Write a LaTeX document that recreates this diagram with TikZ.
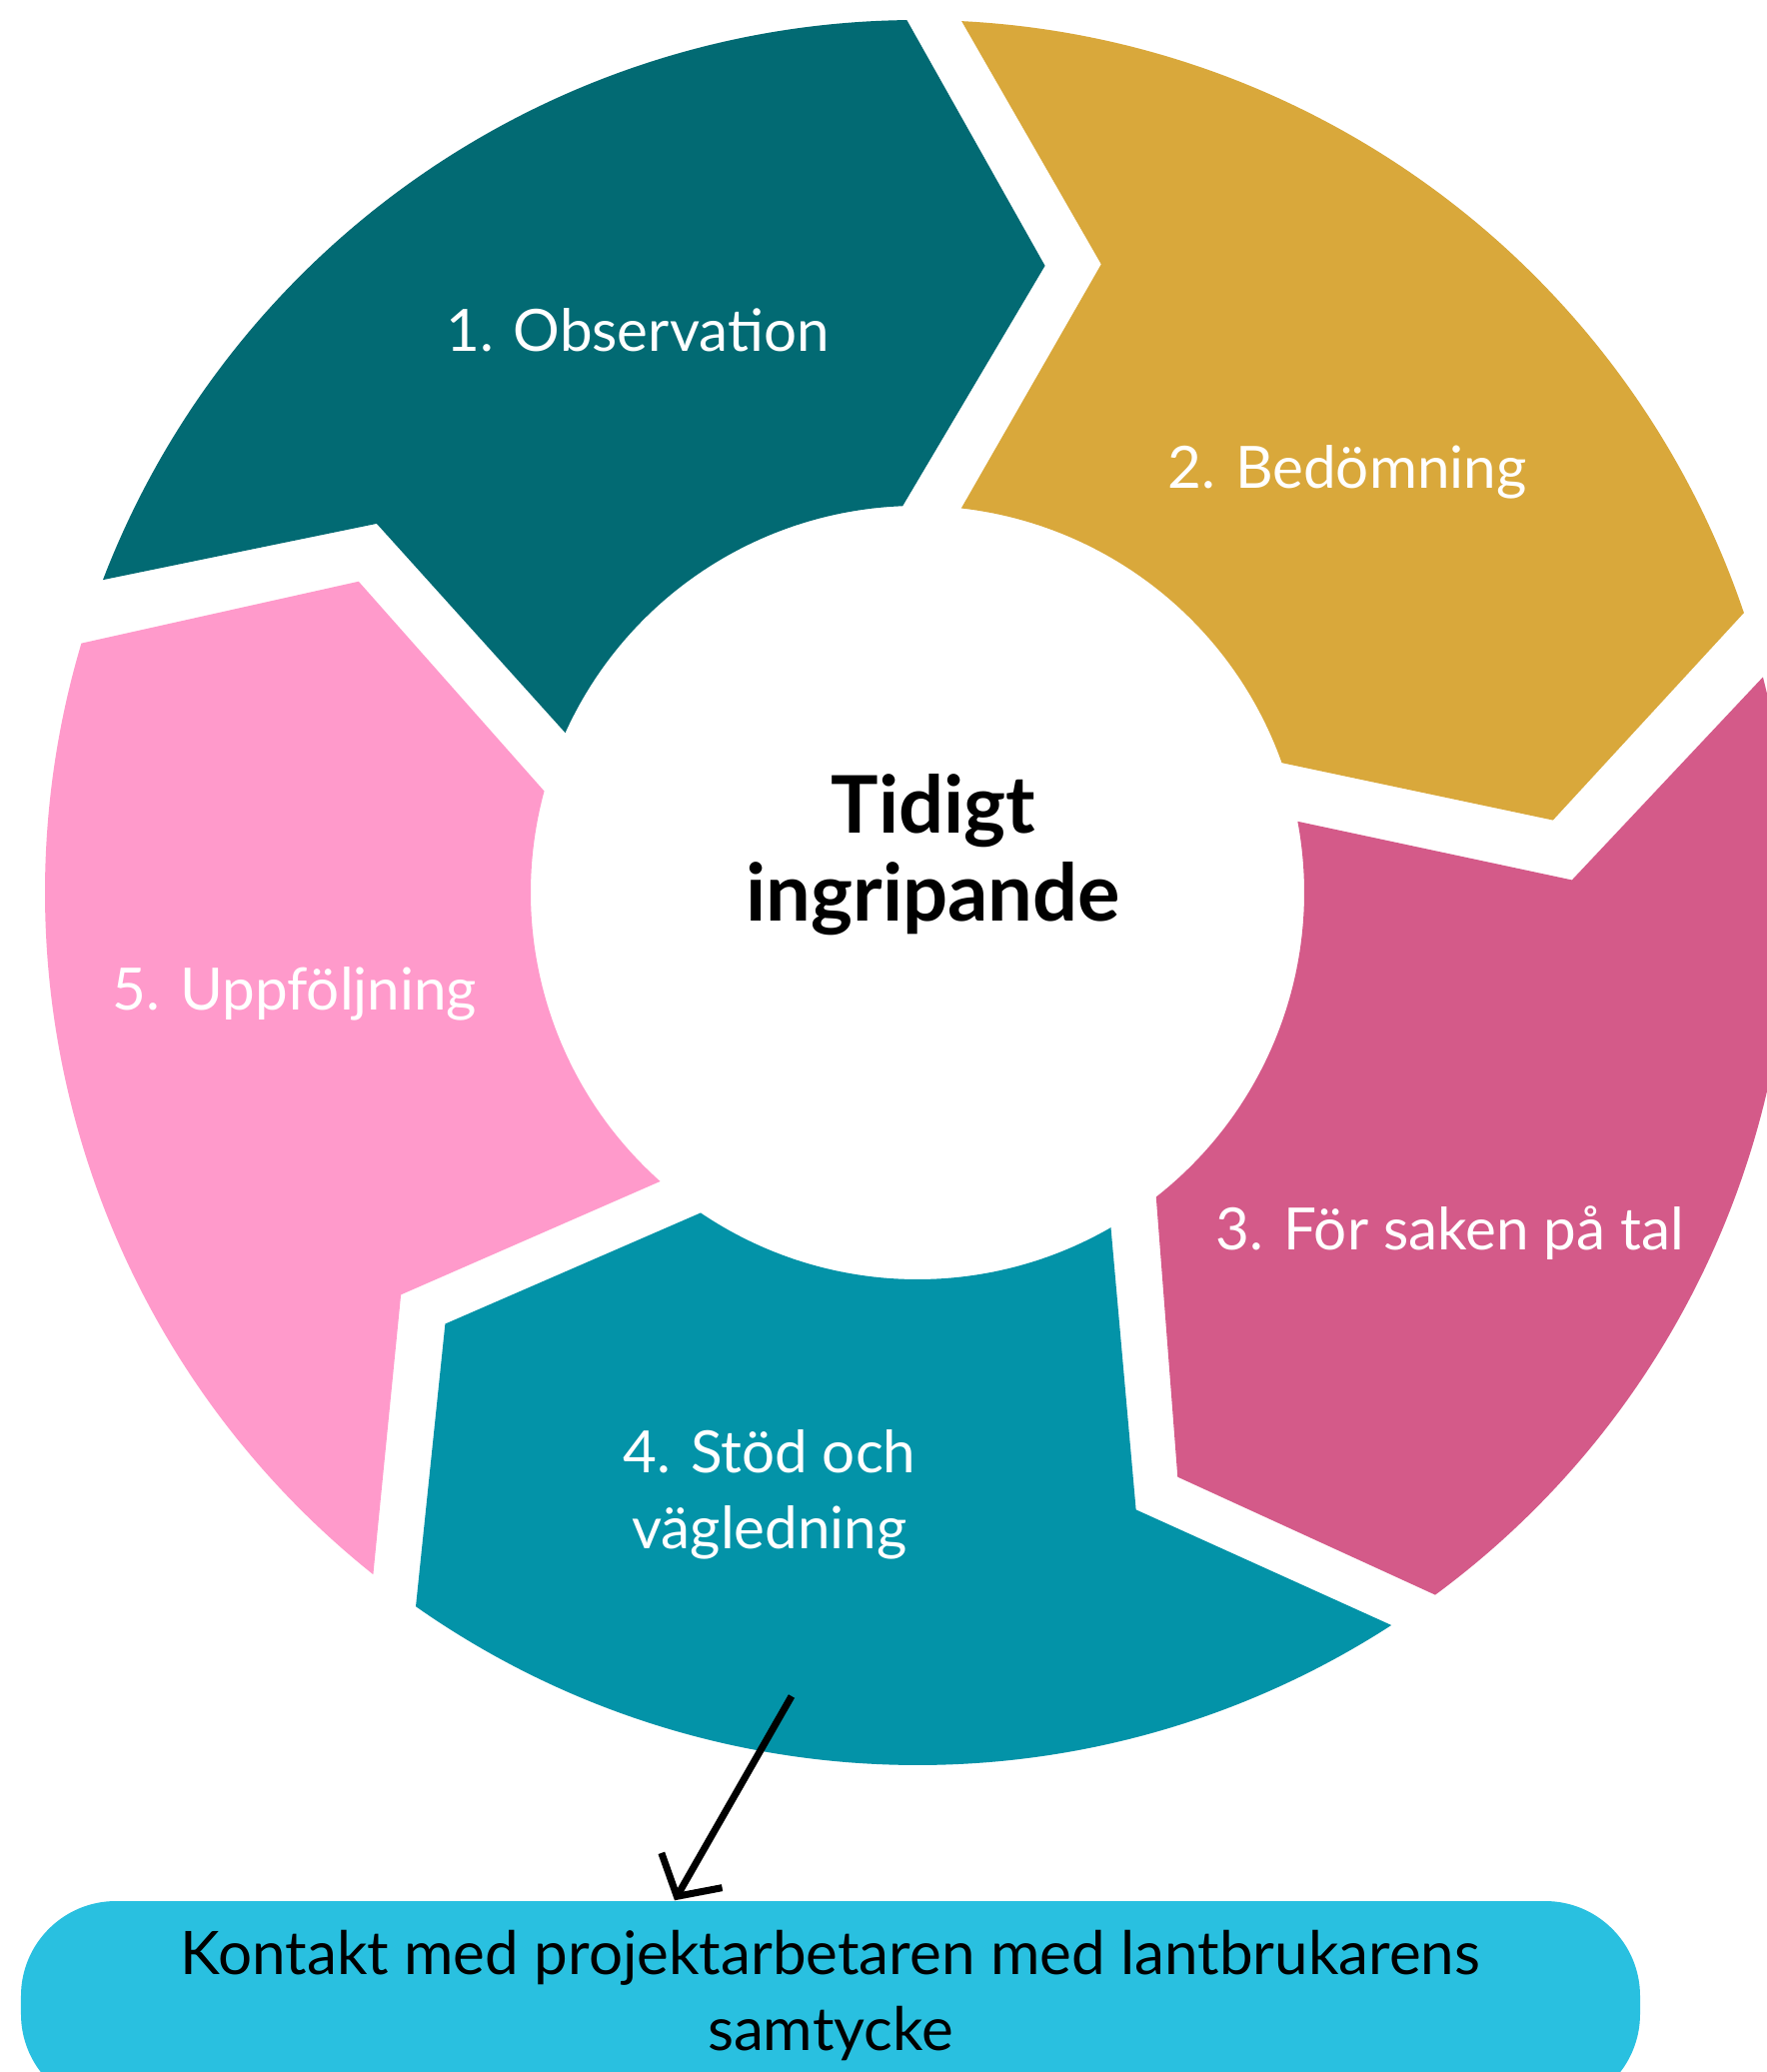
\documentclass[tikz,border=0pt]{standalone}
\usepackage{fontspec}
\setmainfont{Lato}
\usetikzlibrary{arrows.meta}

\definecolor{obsteal}{HTML}{026A73}
\definecolor{bedgold}{HTML}{D9A83B}
\definecolor{talpink}{HTML}{D45A89}
\definecolor{stodblue}{HTML}{0393A8}
\definecolor{uppink}{HTML}{FF9ACB}
\definecolor{boxcyan}{HTML}{29C0E0}

\begin{document}
\begin{tikzpicture}[
    segtext/.style={text=white, font=\fontsize{16.6}{21.6}\selectfont, align=center},
    hubtext/.style={font=\fontsize{22.6}{25.2}\selectfont\bfseries, align=center},
    contactbox/.style={fill=boxcyan, rounded corners=0.95cm, minimum width=16.2cm,
        minimum height=2.08cm, align=center, text depth=0.3cm,
        font=\fontsize{17.1}{21.6}\selectfont},
    link/.style={line width=2pt, -{Straight Barb[length=3mm,width=7mm]}}
]

\def\outR{8.73}
\def\inR{3.87}
\def\tipR{6.40}
\def\notchR{6.55}

\useasboundingbox (-9.18,-11.80) rectangle (8.50,8.93);
\clip (-9.18,-11.80) rectangle (8.50,8.93);
\fill[white] (-9.18,-11.80) rectangle (8.50,8.93);

\begin{scope}
    \fill[obsteal] (159:\outR) arc[start angle=159, end angle=90.7, radius=\outR]
        -- (78.5:\tipR) -- (92.2:\inR) arc[start angle=92.2, end angle=155.6, radius=\inR]
        -- (145.7:\notchR) -- cycle; % 1
    \fill[bedgold] (87.1:\outR) arc[start angle=87.1, end angle=18.7, radius=\outR]
        -- (6.5:\tipR) -- (19.6:\inR) arc[start angle=19.6, end angle=83.5, radius=\inR]
        -- (73.7:\notchR) -- cycle; % 2
    \fill[talpink] (14.3:\outR) arc[start angle=14.3, end angle=-53.6, radius=\outR]
        -- (-66:\tipR) -- (-51.9:\inR) arc[start angle=-51.9, end angle=10.6, radius=\inR]
        -- (1.1:\notchR) -- cycle; % 3
    \fill[stodblue] (-57.1:\outR) arc[start angle=-57.1, end angle=-125.1, radius=\outR]
        -- (-137.6:\tipR) -- (-124.1:\inR) arc[start angle=-124.1, end angle=-60, radius=\inR]
        -- (-70.5:\notchR) -- cycle; % 4
    \fill[uppink] (-128.6:\outR) arc[start angle=-128.6, end angle=-196.6, radius=\outR]
        -- (-209.1:\tipR) -- (-195.2:\inR) arc[start angle=-195.2, end angle=-131.7, radius=\inR]
        -- (-142.1:\notchR) -- cycle; % 5
\end{scope}

    \node[segtext] (obs) at (-2.80,5.63) {1. Observation};
    \node[segtext] (bed) at (4.30,4.21) {2. Bedömning};
    \node[segtext] (tal) at (5.33,-3.41) {3. För saken på tal};
    \node[segtext] (stod) at (-1.48,-6.02) {4. Stöd och\\vägledning};
    \node[segtext] (upp) at (-6.23,-1.01) {5. Uppföljning};
    \node[hubtext] (hub) at (0.16,0.38) {Tidigt\\ingripande};

    \node[contactbox] (contact) at (-0.87,-11.13)
        {Kontakt med projektarbetaren med lantbrukarens\\samtycke};

    \coordinate (hook) at (-1.26,-8.04);
    \draw[link] (hook) -- ([xshift=-1.56cm]contact.north);

\end{tikzpicture}
\end{document}
